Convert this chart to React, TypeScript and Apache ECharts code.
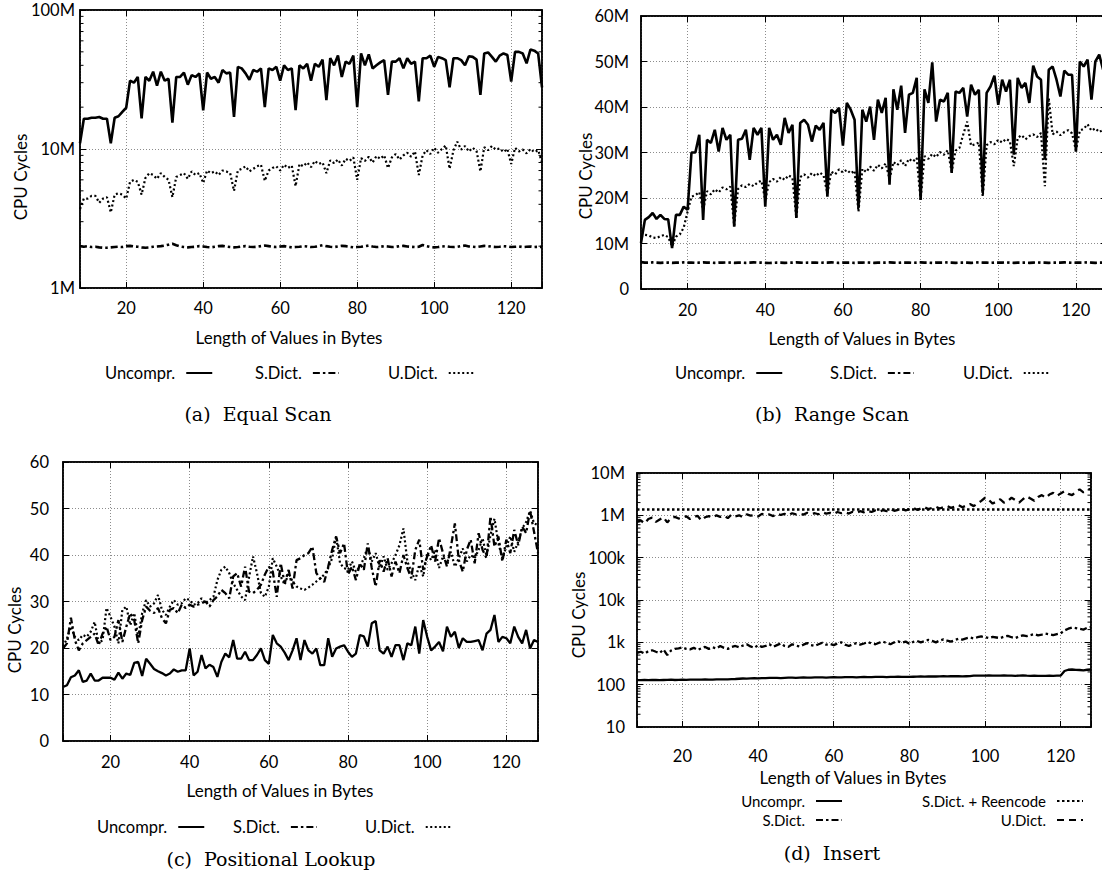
import React, { useEffect, useRef } from 'react';
import * as echarts from 'echarts';

// x: length of values in bytes (8 .. 128)
const lengths: number[] = Array.from({ length: 121 }, (_, i) => 8 + i);

// (a) Equal Scan — CPU cycles in millions
const eqUncompr = [
  11, 16.5, 16.5, 16.8, 16.8, 17, 16.5, 16.5, 11, 16.8,
  17.2, 18.5, 19.8, 31, 30, 33, 16.6, 33, 31, 36,
  28.5, 36, 31, 32, 15.5, 33, 33, 35.5, 29, 34,
  33, 35, 19, 35.5, 32, 33, 30, 37, 35, 35.5,
  17, 39, 38, 35, 31.5, 37, 36, 38, 20, 38,
  37, 39, 31, 40, 37, 38, 19, 40, 38, 41,
  31, 41, 39, 44, 22.5, 45, 40, 47, 33, 42.5,
  41, 47, 20, 48.7, 40, 48, 38, 40, 42, 43.6,
  24.5, 42.5, 42.5, 45, 38, 45, 41, 42.5, 22, 45,
  45, 47, 39, 46, 45, 43.6, 27.8, 45, 45, 43.6,
  40, 46.5, 46, 44, 24.5, 48.7, 49.5, 46, 42.5, 47,
  48.7, 47.5, 30.5, 50, 50, 48.7, 41.3, 52, 51, 48.7,
  27.8,
];
const eqSDict = [
  2.0, 1.98, 2.0, 1.97, 1.98, 1.96, 1.95, 1.95, 1.96, 1.97,
  1.98, 1.97, 2.0, 2.01, 1.99, 1.98, 1.96, 1.95, 1.96, 1.98,
  1.99, 2.0, 2.02, 2.05, 2.08, 2.03, 1.99, 1.97, 1.96, 1.97,
  1.98, 2.0, 1.99, 1.97, 1.96, 1.98, 2.0, 2.01, 1.99, 1.97,
  1.96, 1.97, 1.99, 2.0, 1.98, 1.97, 1.98, 2.0, 2.02, 2.0,
  1.98, 1.97, 1.99, 2.0, 1.98, 1.96, 1.97, 1.98, 2.0, 1.99,
  1.97, 1.98, 2.0, 2.03, 2.0, 1.98, 1.97, 1.99, 2.01, 2.0,
  1.98, 1.96, 1.97, 1.98, 2.0, 2.02, 1.99, 1.97, 1.98, 2.0,
  1.99, 1.97, 1.98, 2.0, 2.01, 1.99, 1.98, 1.97, 1.98, 2.04,
  2.0, 1.97, 1.96, 1.97, 1.99, 2.0, 1.98, 1.97, 1.98, 2.0,
  2.02, 1.99, 1.98, 1.97, 1.99, 2.01, 2.0, 1.98, 1.97, 1.98,
  2.0, 1.99, 1.97, 1.98, 1.99, 1.97, 1.98, 1.99, 1.97, 1.98,
  1.97,
];
const eqUDict = [
  3.7, 4.4, 4.4, 4.6, 4.6, 4.1, 4.4, 4.5, 3.5, 4.7,
  4.8, 4.7, 4.4, 5.8, 6.0, 5.8, 4.7, 6.2, 6.7, 6.5,
  6.1, 6.7, 6.3, 6.0, 4.5, 6.3, 6.5, 6.7, 6.1, 6.9,
  6.5, 6.7, 5.7, 7.0, 6.7, 6.9, 6.5, 7.0, 6.9, 6.7,
  5.0, 7.0, 7.2, 7.5, 6.9, 7.2, 7.5, 7.7, 5.9, 7.0,
  7.3, 7.5, 7.0, 7.7, 7.3, 7.6, 5.4, 7.8, 7.5, 8.0,
  7.4, 8.2, 7.8, 8.0, 6.7, 8.3, 7.9, 8.4, 7.6, 8.5,
  8.2, 8.7, 6.0, 8.6, 8.2, 8.8, 8.0, 8.9, 8.5, 9.0,
  7.3, 8.7, 9.2, 8.4, 9.0, 9.4, 8.8, 9.6, 6.5, 9.0,
  9.8, 9.2, 10.2, 9.4, 10.0, 10.6, 7.2, 9.8, 11.3, 9.9,
  10.5, 9.6, 10.2, 9.7, 6.9, 10.3, 9.8, 10.5, 9.9, 10.1,
  9.5, 10.0, 7.8, 10.2, 9.6, 9.9, 9.3, 10.0, 9.5, 9.8,
  8.0,
];

// (b) Range Scan — CPU cycles in millions
const rgUncompr = [
  10.1, 15.2, 15.8, 16.7, 15.4, 16.3, 15.4, 15.3, 9.0, 16.3,
  16.3, 18.1, 17.4, 30.0, 30.0, 33.9, 15.2, 32.8, 32.1, 35.0,
  30.2, 35.4, 32.8, 33.9, 13.7, 32.8, 33.0, 35.0, 28.4, 35.4,
  33.9, 35.4, 18.1, 35.4, 32.8, 33.9, 31.7, 37.6, 34.3, 36.1,
  15.6, 36.5, 37.2, 36.1, 32.4, 35.9, 35.0, 36.5, 20.3, 39.4,
  38.7, 39.8, 31.5, 40.9, 39.4, 37.2, 17.8, 39.4, 36.8, 40.1,
  32.8, 41.6, 38.7, 42.0, 22.9, 43.9, 39.4, 44.7, 34.3, 42.7,
  43.1, 46.4, 19.6, 43.9, 40.9, 49.8, 36.8, 41.6, 41.2, 43.1,
  25.5, 43.4, 43.1, 44.2, 37.9, 44.9, 42.7, 43.8, 21.1, 43.1,
  44.5, 46.9, 40.5, 46.0, 43.4, 46.0, 29.5, 46.4, 44.2, 45.3,
  40.9, 49.1, 46.7, 46.0, 28.4, 48.2, 48.9, 46.0, 42.3, 48.0,
  47.1, 47.1, 30.2, 50.0, 48.9, 50.4, 41.6, 50.0, 51.5, 48.2,
  47.0,
];
const rgSDict = [
  5.9, 5.8, 5.8, 5.85, 5.8, 5.75, 5.8, 5.8, 5.75, 5.8,
  5.8, 5.85, 5.8, 5.8, 5.75, 5.8, 5.85, 5.8, 5.8, 5.75,
  5.8, 5.8, 5.85, 5.8, 5.75, 5.8, 5.8, 5.75, 5.8, 5.85,
  5.8, 5.8, 5.75, 5.7, 5.75, 5.8, 5.8, 5.75, 5.8, 5.8,
  5.85, 5.8, 5.75, 5.8, 5.8, 5.8, 5.75, 5.8, 5.8, 5.85,
  5.8, 5.75, 5.8, 5.8, 5.8, 5.75, 5.8, 5.8, 5.85, 5.8,
  5.75, 5.8, 5.8, 5.8, 5.85, 5.8, 5.75, 5.8, 5.8, 5.8,
  5.75, 5.8, 5.85, 5.8, 5.8, 5.75, 5.8, 5.8, 5.8, 5.85,
  5.8, 5.75, 5.8, 5.8, 5.8, 5.75, 5.8, 5.85, 5.8, 5.8,
  5.75, 5.8, 5.8, 5.8, 5.85, 5.8, 5.75, 5.8, 5.8, 5.8,
  5.75, 5.8, 5.85, 5.8, 5.8, 5.75, 5.8, 5.8, 5.8, 5.85,
  5.8, 5.75, 5.8, 5.8, 5.8, 5.85, 5.8, 5.75, 5.8, 5.8,
  5.8,
];
const rgUDict = [
  11.5, 11.9, 11.8, 11.3, 11.2, 11.6, 11.9, 11.4, 9.4, 11.5,
  12.0, 13.5, 17.0, 20.3, 20.6, 21.3, 17.4, 21.5, 20.8, 21.9,
  21.2, 22.3, 21.9, 22.5, 13.9, 22.0, 22.8, 22.4, 23.1, 22.6,
  23.4, 23.8, 19.6, 23.5, 24.2, 23.6, 24.6, 24.0, 25.0, 24.4,
  15.6, 24.6, 25.2, 24.5, 25.5, 24.8, 25.6, 25.0, 21.0, 25.8,
  25.2, 26.3, 25.6, 26.2, 25.4, 26.0, 17.0, 26.4, 25.7, 26.9,
  26.0, 27.3, 26.5, 27.6, 24.2, 27.9, 27.2, 28.3, 27.0, 28.6,
  28.0, 28.8, 19.6, 29.2, 28.6, 29.7, 29.0, 30.1, 29.5, 30.5,
  25.8, 30.4, 31.0, 34.0, 36.8, 31.5, 31.8, 32.2, 20.3, 31.6,
  32.3, 31.8, 32.8, 32.2, 33.0, 32.5, 27.0, 33.2, 33.8, 32.9,
  33.6, 34.0, 33.4, 34.3, 22.6, 42.0, 34.0, 34.6, 33.8, 34.5,
  34.9, 34.2, 30.5, 34.8, 35.2, 36.2, 34.8, 35.3, 34.5, 35.0,
  34.6,
];

// (c) Positional Lookup — CPU cycles
const posUncompr = [
  11.6, 12.0, 13.7, 14.1, 15.2, 12.7, 13.0, 14.5, 13.0, 13.0,
  13.6, 13.6, 13.6, 13.2, 14.7, 13.4, 14.5, 14.2, 16.8, 17.0,
  14.0, 17.7, 16.6, 15.5, 15.0, 14.6, 14.1, 14.5, 15.4, 14.9,
  15.2, 15.2, 19.9, 14.1, 14.9, 18.5, 15.6, 16.4, 15.9, 13.8,
  17.0, 18.8, 18.0, 21.7, 17.7, 17.7, 19.2, 17.4, 17.4, 18.5,
  19.9, 17.4, 16.6, 22.8, 21.0, 20.3, 19.0, 17.4, 19.5, 22.1,
  17.4, 21.7, 19.5, 18.8, 19.9, 16.3, 16.3, 22.1, 18.1, 19.9,
  20.3, 20.6, 19.2, 18.1, 18.8, 22.8, 22.5, 20.3, 25.3, 25.8,
  19.5, 18.8, 20.3, 18.1, 20.6, 20.6, 17.4, 21.0, 20.6, 24.6,
  18.8, 26.0, 22.4, 19.5, 20.3, 21.3, 19.3, 24.6, 22.4, 23.5,
  20.0, 22.1, 21.3, 21.3, 21.5, 21.7, 19.5, 23.1, 23.9, 27.1,
  21.3, 22.4, 22.1, 21.0, 24.6, 22.4, 21.0, 23.9, 19.9, 21.7,
  21.3,
];
const posSDict = [
  19.9, 21.0, 26.5, 21.7, 19.5, 21.0, 21.7, 22.4, 23.1, 20.6,
  23.1, 24.6, 21.7, 22.4, 26.0, 21.3, 24.6, 27.5, 26.0, 21.0,
  26.0, 28.9, 28.0, 27.5, 28.6, 26.4, 25.3, 28.2, 28.6, 27.5,
  29.3, 28.6, 29.3, 28.9, 29.3, 29.6, 30.0, 28.9, 30.3, 31.1,
  32.5, 31.8, 30.7, 35.4, 36.1, 33.2, 37.5, 32.1, 31.8, 32.5,
  33.6, 35.8, 37.5, 36.4, 31.0, 38.2, 33.9, 36.8, 32.8, 38.9,
  39.3, 40.0, 40.4, 41.8, 36.1, 35.0, 34.2, 37.5, 41.1, 44.0,
  40.4, 42.5, 35.8, 37.5, 34.6, 38.2, 36.8, 42.5, 37.2, 33.2,
  38.9, 36.4, 39.3, 35.4, 38.6, 36.1, 40.0, 37.2, 35.0, 41.1,
  43.3, 36.8, 39.7, 42.1, 38.6, 43.6, 40.4, 37.5, 41.8, 46.8,
  38.9, 36.4, 41.1, 43.3, 38.2, 44.7, 41.1, 39.3, 48.3, 41.8,
  44.0, 38.6, 43.3, 40.4, 45.4, 42.1, 46.1, 44.7, 49.5, 45.0,
  40.4,
];
const posUDict = [
  20.3, 22.0, 24.6, 22.4, 21.7, 22.8, 22.4, 23.5, 25.6, 21.0,
  21.7, 28.6, 26.7, 24.6, 21.0, 28.2, 28.9, 24.9, 27.5, 22.4,
  27.5, 30.3, 28.9, 29.6, 31.4, 28.2, 27.1, 28.9, 30.3, 29.3,
  29.6, 30.7, 30.3, 29.3, 29.6, 30.7, 29.6, 30.3, 31.0, 34.6,
  36.8, 37.5, 36.1, 33.9, 32.5, 31.1, 30.3, 35.2, 39.7, 36.1,
  31.8, 31.0, 33.2, 39.3, 37.5, 35.4, 33.6, 36.1, 34.3, 33.2,
  32.8, 32.5, 33.0, 33.6, 34.3, 35.0, 35.8, 37.2, 39.3, 44.0,
  38.2, 37.2, 36.8, 38.6, 36.4, 37.5, 39.3, 41.8, 38.6, 40.4,
  37.2, 39.7, 36.8, 38.2, 40.0, 42.1, 45.7, 38.6, 36.4, 34.6,
  37.9, 35.4, 40.4, 38.9, 41.1, 37.2, 39.7, 38.2, 40.7, 37.5,
  39.3, 41.4, 38.6, 40.0, 39.3, 41.1, 43.6, 39.7, 44.3, 47.8,
  42.5, 39.3, 41.8, 44.0, 40.7, 42.8, 45.7, 47.1, 49.5, 46.8,
  46.4,
];

// (d) Insert — CPU cycles
const insUncompr = [
  128, 128, 129, 128, 130, 129, 128, 129, 130, 131,
  129, 130, 131, 130, 131, 132, 131, 132, 133, 132,
  131, 133, 134, 133, 134, 135, 136, 138, 140, 139,
  141, 142, 141, 143, 142, 144, 145, 144, 143, 145,
  147, 146, 145, 147, 148, 146, 147, 148, 149, 148,
  147, 149, 150, 149, 148, 150, 151, 150, 149, 151,
  152, 151, 150, 152, 153, 152, 151, 152, 153, 154,
  153, 152, 153, 154, 155, 156, 155, 156, 157, 156,
  157, 158, 157, 158, 159, 158, 157, 158, 159, 163,
  164, 163, 164, 165, 164, 163, 164, 165, 164, 163,
  162, 164, 166, 163, 161, 163, 162, 161, 162, 163,
  162, 163, 164, 210, 225, 228, 224, 222, 218, 225,
  228,
];
const insSDict = [
  560, 600, 540, 620, 650, 600, 560, 680, 500, 640,
  700, 720, 760, 700, 680, 740, 660, 720, 780, 700,
  760, 720, 820, 740, 700, 780, 820, 760, 840, 900,
  800, 740, 860, 780, 820, 900, 780, 860, 940, 820,
  780, 900, 840, 800, 880, 960, 860, 820, 900, 980,
  880, 920, 860, 940, 1000, 880, 820, 900, 960, 880,
  940, 1020, 940, 900, 980, 1040, 960, 900, 1000, 1060,
  980, 1040, 920, 1020, 1080, 1000, 1060, 1140, 1080, 1000,
  1100, 1180, 1100, 1040, 1140, 1220, 1160, 1240, 1300, 1240,
  1320, 1380, 1320, 1260, 1340, 1300, 1260, 1360, 1420, 1320,
  1260, 1380, 1460, 1400, 1480, 1560, 1460, 1520, 1600, 1540,
  1480, 1560, 1640, 1900, 2100, 2240, 2160, 2080, 2000, 2200,
  2300,
];
const insSDictReencode = [
  1.37e6, 1.37e6, 1.37e6, 1.37e6, 1.37e6, 1.37e6, 1.37e6, 1.37e6, 1.37e6, 1.37e6,
  1.37e6, 1.37e6, 1.37e6, 1.37e6, 1.37e6, 1.37e6, 1.37e6, 1.37e6, 1.37e6, 1.37e6,
  1.37e6, 1.37e6, 1.37e6, 1.37e6, 1.37e6, 1.37e6, 1.37e6, 1.37e6, 1.37e6, 1.37e6,
  1.37e6, 1.37e6, 1.37e6, 1.37e6, 1.37e6, 1.37e6, 1.37e6, 1.37e6, 1.37e6, 1.37e6,
  1.37e6, 1.37e6, 1.37e6, 1.37e6, 1.37e6, 1.37e6, 1.37e6, 1.37e6, 1.37e6, 1.37e6,
  1.37e6, 1.37e6, 1.37e6, 1.37e6, 1.37e6, 1.37e6, 1.37e6, 1.37e6, 1.37e6, 1.37e6,
  1.37e6, 1.37e6, 1.37e6, 1.37e6, 1.37e6, 1.37e6, 1.37e6, 1.37e6, 1.37e6, 1.37e6,
  1.37e6, 1.37e6, 1.37e6, 1.37e6, 1.37e6, 1.37e6, 1.37e6, 1.37e6, 1.37e6, 1.37e6,
  1.37e6, 1.37e6, 1.37e6, 1.37e6, 1.37e6, 1.37e6, 1.37e6, 1.37e6, 1.37e6, 1.37e6,
  1.37e6, 1.37e6, 1.37e6, 1.37e6, 1.37e6, 1.37e6, 1.37e6, 1.37e6, 1.37e6, 1.37e6,
  1.37e6, 1.37e6, 1.37e6, 1.37e6, 1.37e6, 1.37e6, 1.37e6, 1.37e6, 1.37e6, 1.37e6,
  1.37e6, 1.37e6, 1.37e6, 1.37e6, 1.37e6, 1.37e6, 1.37e6, 1.37e6, 1.37e6, 1.37e6,
  1.37e6,
];
const insUDict = [
  700e3, 760e3, 640e3, 820e3, 880e3, 700e3, 800e3, 900e3, 680e3, 860e3,
  920e3, 840e3, 880e3, 950e3, 820e3, 900e3, 980e3, 760e3, 900e3, 960e3,
  880e3, 1.0e6, 920e3, 980e3, 860e3, 1.05e6, 950e3, 1.0e6, 900e3, 1.05e6,
  980e3, 1.02e6, 940e3, 1.08e6, 1.0e6, 1.05e6, 960e3, 1.1e6, 1.02e6, 1.08e6,
  1.0e6, 1.12e6, 1.05e6, 1.1e6, 1.04e6, 1.15e6, 1.08e6, 1.12e6, 1.06e6, 1.18e6,
  1.1e6, 1.15e6, 1.08e6, 1.2e6, 1.12e6, 1.18e6, 1.1e6, 1.22e6, 1.15e6, 1.25e6,
  1.18e6, 1.28e6, 1.2e6, 1.3e6, 1.22e6, 1.32e6, 1.25e6, 1.4e6, 1.28e6, 1.35e6,
  1.45e6, 1.3e6, 1.4e6, 1.5e6, 1.35e6, 1.45e6, 1.55e6, 1.4e6, 1.5e6, 1.6e6,
  1.45e6, 1.55e6, 1.65e6, 1.5e6, 1.6e6, 1.75e6, 1.55e6, 1.7e6, 1.85e6, 1.65e6,
  1.9e6, 2.2e6, 2.6e6, 2.3e6, 1.9e6, 2.1e6, 2.4e6, 2.0e6, 2.2e6, 2.6e6,
  2.3e6, 2.0e6, 2.4e6, 2.8e6, 2.5e6, 2.2e6, 2.7e6, 3.0e6, 2.6e6, 3.1e6,
  3.4e6, 2.9e6, 3.3e6, 3.7e6, 3.2e6, 3.0e6, 3.6e6, 4.1e6, 3.5e6, 3.9e6,
  4.3e6,
];

// minor tick values on the log axes
const eqMinorTicks = [2, 3, 4, 5, 6, 7, 8, 9, 20, 30, 40, 50, 60, 70, 80, 90];
const insMinorTicks = [
  20, 30, 40, 50, 60, 70, 80, 90,
  200, 300, 400, 500, 600, 700, 800, 900,
  2e3, 3e3, 4e3, 5e3, 6e3, 7e3, 8e3, 9e3,
  2e4, 3e4, 4e4, 5e4, 6e4, 7e4, 8e4, 9e4,
  2e5, 3e5, 4e5, 5e5, 6e5, 7e5, 8e5, 9e5,
  2e6, 3e6, 4e6, 5e6, 6e6, 7e6, 8e6, 9e6,
];

const SANS = 'Lato, "Open Sans", sans-serif';
const SERIF = '"DejaVu Serif", serif';
const DASHDOT = [7, 3, 2.5, 3];
const DOTTED = [2, 2.5];
const DASHED = [7, 5];
const CHART_W = 1110;

const pairs = (ys: number[]) => lengths.map((x, i) => [x, ys[i]]);

const fmtLogRaw = (v: number) => {
  const r = Math.round(v);
  if (r >= 1e6) return `${Math.round(r / 1e6)}M`;
  if (r >= 1e3) return `${Math.round(r / 1e3)}k`;
  return String(r);
};

export default function App() {
  const ref = useRef<HTMLDivElement>(null);

  useEffect(() => {
    if (!ref.current) return;
    const chart = echarts.init(ref.current, null, { renderer: 'svg' });

    const panels: any[] = [
      {
        grid: { left: 80, top: 10, width: 462, height: 278 },
        xMargin: 11,
        minor: eqMinorTicks,
        y: { type: 'log', min: 1, max: 100, fmt: (v: number) => `${Math.round(v)}M`, margin: 5 },
        series: [
          { name: 'Uncompr.', data: eqUncompr, type: 'solid', width: 2.6 },
          { name: 'S.Dict.', data: eqSDict, type: DASHDOT, width: 2.6 },
          { name: 'U.Dict.', data: eqUDict, type: DOTTED, width: 2.2 },
        ],
      },
      {
        grid: { left: 641, top: 16, width: 466, height: 273 },
        xMargin: 12,
        y: { type: 'value', min: 0, max: 60, interval: 10, fmt: (v: number) => (v === 0 ? '0' : `${v}M`), margin: 12 },
        series: [
          { name: 'Uncompr.', data: rgUncompr, type: 'solid', width: 2.6 },
          { name: 'S.Dict.', data: rgSDict, type: DASHDOT, width: 2.6 },
          { name: 'U.Dict.', data: rgUDict, type: DOTTED, width: 2.2 },
        ],
      },
      {
        grid: { left: 63, top: 462, width: 475, height: 279 },
        xMargin: 12,
        y: { type: 'value', min: 0, max: 60, interval: 10, fmt: (v: number) => String(v), margin: 14 },
        series: [
          { name: 'Uncompr.', data: posUncompr, type: 'solid', width: 2.3 },
          { name: 'S.Dict.', data: posSDict, type: DASHDOT, width: 2.3 },
          { name: 'U.Dict.', data: posUDict, type: DOTTED, width: 2.2 },
        ],
      },
      {
        grid: { left: 637, top: 473, width: 454, height: 254 },
        xMargin: 20,
        minor: insMinorTicks,
        y: { type: 'log', min: 10, max: 1e7, fmt: fmtLogRaw, margin: 12 },
        series: [
          { name: 'Uncompr.', data: insUncompr, type: 'solid', width: 2.3 },
          { name: 'S.Dict.', data: insSDict, type: DASHDOT, width: 2.3 },
          { name: 'S.Dict. + Reencode', data: insSDictReencode, type: [2.5, 2.5], width: 2.6 },
          { name: 'U.Dict. ', data: insUDict, type: DASHED, width: 2.3 },
        ],
      },
    ];

    const axisLine = { show: true, onZero: false, lineStyle: { color: '#000', width: 1.5 } };
    const tick = { show: true, inside: true, length: 6, lineStyle: { color: '#000', width: 1 } };
    const split = { show: true, lineStyle: { color: '#8c8c8c', width: 1, type: [1, 2] } };
    const labelFont = { fontFamily: SANS, fontSize: 16.5, color: '#000' };

    const grid: any[] = [];
    const xAxis: any[] = [];
    const yAxis: any[] = [];
    const series: any[] = [];

    panels.forEach((p, i) => {
      grid.push({ ...p.grid, show: true, borderColor: '#000', borderWidth: 1.5, backgroundColor: 'transparent' });
      const xBase = { gridIndex: i, type: 'value', min: 8, max: 128, splitNumber: 6 };
      xAxis.push({
        ...xBase,
        position: 'bottom',
        axisLine,
        axisTick: tick,
        axisLabel: { ...labelFont, margin: p.xMargin, formatter: (v: number) => (v % 20 === 0 ? String(v) : '') },
        splitLine: split,
      });
      xAxis.push({ ...xBase, position: 'top', axisLine, axisTick: tick, axisLabel: { show: false }, splitLine: { show: false } });
      const yBase: any = { gridIndex: i, type: p.y.type, min: p.y.min, max: p.y.max };
      if (p.y.type === 'log') yBase.logBase = 10;
      if (p.y.interval) yBase.interval = p.y.interval;
      yAxis.push({
        ...yBase,
        position: 'left',
        axisLine,
        axisTick: tick,
        axisLabel: { ...labelFont, margin: p.y.margin, formatter: p.y.fmt },
        splitLine: split,
      });
      yAxis.push({ ...yBase, position: 'right', axisLine, axisTick: tick, axisLabel: { show: false }, splitLine: { show: false } });
      p.series.forEach((s: any) => {
        series.push({
          type: 'line',
          name: s.name,
          xAxisIndex: 2 * i,
          yAxisIndex: 2 * i,
          data: pairs(s.data),
          symbol: 'none',
          showSymbol: false,
          clip: true,
          lineStyle: { color: '#000', width: s.width, type: s.type },
          itemStyle: { color: '#000' },
          emphasis: { disabled: true },
        });
      });
      if (p.minor) {
        series.push({
          type: 'custom',
          name: 'minor ticks',
          xAxisIndex: 2 * i,
          yAxisIndex: 2 * i,
          silent: true,
          data: p.minor.map((v: number) => [8, v]),
          renderItem: (_params: any, api: any) => {
            const pl = api.coord([8, api.value(1)]);
            const pr = api.coord([128, api.value(1)]);
            return {
              type: 'group',
              children: [
                { type: 'line', shape: { x1: pl[0], y1: pl[1], x2: pl[0] + 3.5, y2: pl[1] }, style: { stroke: '#000', lineWidth: 1 } },
                { type: 'line', shape: { x1: pr[0] - 3.5, y1: pr[1], x2: pr[0], y2: pr[1] }, style: { stroke: '#000', lineWidth: 1 } },
              ],
            };
          },
        });
      }
    });

    const legendItem = (name: string, pos: any, fontSize = 16.5, lineHeight = 18) => ({
      data: [name],
      ...pos,
      orient: 'horizontal',
      align: 'right',
      padding: 0,
      itemGap: 0,
      itemWidth: 26,
      itemHeight: 10,
      selectedMode: false,
      formatter: (n: string) => n.trim(),
      textStyle: { fontFamily: SANS, fontSize, color: '#000', lineHeight, padding: [0, 6, 0, 0] },
      itemStyle: { opacity: 0, borderWidth: 0 },
      lineStyle: { width: 2 },
    });

    const legend: any[] = [
      legendItem('Uncompr.', { left: 105, top: 364 }),
      legendItem('S.Dict.', { left: 255, top: 364 }),
      legendItem('U.Dict.', { left: 388, top: 364 }),
      legendItem('Uncompr.', { left: 675, top: 364 }),
      legendItem('S.Dict.', { left: 830, top: 364 }),
      legendItem('U.Dict.', { left: 963, top: 364 }),
      legendItem('Uncompr.', { left: 97, top: 818 }),
      legendItem('S.Dict.', { left: 233, top: 818 }),
      legendItem('U.Dict.', { left: 365, top: 818 }),
      legendItem('Uncompr.', { right: CHART_W - 843, top: 793 }, 15, 16),
      legendItem('S.Dict.', { right: CHART_W - 843, top: 812 }, 15, 16),
      legendItem('S.Dict. + Reencode', { right: CHART_W - 1084, top: 793 }, 15, 16),
      legendItem('U.Dict. ', { right: CHART_W - 1084, top: 812 }, 15, 16),
    ];

    const txt = (text: string, x: number, y: number, font: string, rot = 0) => ({
      type: 'text',
      x,
      y,
      rotation: rot,
      silent: true,
      style: { text, font, fill: '#000', align: 'center', verticalAlign: 'middle' },
    });
    const axisFont = `17px ${SANS}`;
    const capFont = `19px ${SERIF}`;
    const graphic: any[] = [
      txt('CPU Cycles', 20, 177, axisFont, Math.PI / 2),
      txt('CPU Cycles', 585, 176, axisFont, Math.PI / 2),
      txt('CPU Cycles', 14, 630, axisFont, Math.PI / 2),
      txt('CPU Cycles', 578, 615, axisFont, Math.PI / 2),
      txt('Length of Values in Bytes', 289, 337, axisFont),
      txt('Length of Values in Bytes', 862, 338, axisFont),
      txt('Length of Values in Bytes', 280, 790, axisFont),
      txt('Length of Values in Bytes', 853, 777, axisFont),
      txt('(a)  Equal Scan', 258, 414, capFont),
      txt('(b)  Range Scan', 832, 414, capFont),
      txt('(c)  Positional Lookup', 271, 859, capFont),
      txt('(d)  Insert', 832, 853, capFont),
    ];

    chart.setOption({
      animation: false,
      backgroundColor: '#fff',
      textStyle: { fontFamily: SANS },
      grid,
      xAxis,
      yAxis,
      series,
      legend,
      graphic,
    });

    return () => chart.dispose();
  }, []);

  return (
    <div style={{ position: 'fixed', left: 0, top: 0, width: 1102, height: 882, overflow: 'hidden', background: '#fff' }}>
      <div ref={ref} style={{ width: CHART_W, height: 882 }} />
    </div>
  );
}
